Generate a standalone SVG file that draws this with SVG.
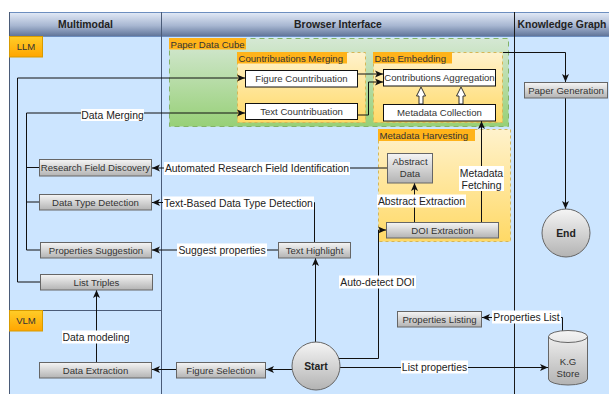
<svg xmlns="http://www.w3.org/2000/svg" width="609" height="394" viewBox="0 0 609 394">
<defs>
<linearGradient id="hdr" x1="0" y1="0" x2="0" y2="1">
<stop offset="0" stop-color="#e2eaf7"/><stop offset="0.55" stop-color="#a7b6d1"/><stop offset="1" stop-color="#5d7297"/>
</linearGradient>
<linearGradient id="gray" x1="0" y1="0" x2="0" y2="1">
<stop offset="0" stop-color="#f5f5f5"/><stop offset="1" stop-color="#b3b3b3"/>
</linearGradient>
<linearGradient id="green" x1="0" y1="0" x2="0" y2="1">
<stop offset="0" stop-color="#d5e8d4"/><stop offset="1" stop-color="#97d077"/>
</linearGradient>
<linearGradient id="yellow" x1="0" y1="0" x2="0" y2="1">
<stop offset="0" stop-color="#fff2cc"/><stop offset="1" stop-color="#ffd966"/>
</linearGradient>
<linearGradient id="orange" x1="0" y1="0" x2="0" y2="1">
<stop offset="0" stop-color="#ffcd28"/><stop offset="1" stop-color="#ffa500"/>
</linearGradient>
<marker id="arr" markerUnits="userSpaceOnUse" markerWidth="10" markerHeight="8" refX="8" refY="4" orient="auto">
<path d="M0,0.5 L8,4 L0,7.5 L2,4 Z" fill="#111"/>
</marker>
<style>
text{font-family:"Liberation Sans",Arial,sans-serif;fill:#333;}
.hd{font-size:10.4px;font-weight:bold;fill:#222;text-anchor:middle;}
.bx{fill:url(#gray);stroke:#666;stroke-width:1;}
.wb{fill:#fff;stroke:#111;stroke-width:1;}
.bt{font-size:9.6px;text-anchor:middle;}
.tg{font-size:9.6px;}
.tag{fill:#ffb31a;}
.ct{fill:url(#yellow);stroke:#d6b656;stroke-dasharray:3,3;}
.el{font-size:10.4px;text-anchor:middle;fill:#222;}
.lb{fill:#fff;}
.ln{fill:none;stroke:#111;stroke-width:1;}
.ar{fill:none;stroke:#111;stroke-width:1;marker-end:url(#arr);}
.blk{fill:#fff;stroke:#333;stroke-width:1;}
</style>
</defs>

<!-- pool -->
<g id="pool">
<rect x="9.5" y="36" width="605" height="365" fill="#cce5ff"/>
<rect x="9.5" y="12.5" width="605" height="24" fill="url(#hdr)" stroke="#6c8ebf"/>
<line x1="9.5" y1="12" x2="9.5" y2="394" stroke="#4a5b78"/>
<line x1="161.5" y1="12" x2="161.5" y2="394" stroke="#4a5b78"/>
<line x1="514.5" y1="12" x2="514.5" y2="394" stroke="#1a1a1a"/>
<line x1="9.5" y1="310.5" x2="161.5" y2="310.5" stroke="#4a5b78"/>
<text class="hd" x="85.5" y="28">Multimodal</text>
<text class="hd" x="338" y="28">Browser Interface</text>
<text class="hd" x="562" y="28">Knowledge Graph</text>
<rect x="9.5" y="36.5" width="33" height="20.5" fill="url(#orange)" stroke="#d79b00"/>
<text class="tg" x="26" y="50" text-anchor="middle">LLM</text>
<rect x="9.5" y="310.5" width="33" height="20.5" fill="url(#orange)" stroke="#d79b00"/>
<text class="tg" x="26" y="324" text-anchor="middle">VLM</text>
</g>

<!-- containers -->
<g id="paper-data-cube">
<rect x="169.5" y="38.5" width="339" height="88" fill="url(#green)" stroke="#82b366" stroke-dasharray="5,4"/>
<rect class="tag" x="169" y="38" width="77" height="11.5"/>
<text class="tg" x="170.5" y="47.5">Paper Data Cube</text>
</g>
<g id="countribuations-merging">
<rect class="ct" x="237.5" y="52.5" width="128" height="70"/>
<rect class="tag" x="237" y="52" width="110" height="11.5"/>
<text class="tg" x="238.5" y="61.5">Countribuations Merging</text>
</g>
<g id="data-embedding">
<rect class="ct" x="373.5" y="52.5" width="129" height="70"/>
<rect class="tag" x="373" y="52" width="79" height="11.5"/>
<text class="tg" x="374.5" y="61.5">Data Embedding</text>
</g>
<g id="metadata-harvesting">
<rect class="ct" x="378.5" y="129.5" width="132" height="112"/>
<rect class="tag" x="378" y="129" width="97" height="12"/>
<text class="tg" x="379.5" y="138.5">Metadata Harvesting</text>
</g>

<!-- connectors -->
<g id="connectors">
<path class="ar" d="M40,282 H17.5 V78 H245"/>
<path class="ar" d="M40,250 H26.5 V113 H245"/>
<path class="ln" d="M40,167.5 H26.5 M40,202 H26.5"/>
<path class="ar" d="M358,74 H383"/>
<path class="ar" d="M358,115 H368.5 V82 H383"/>
<path class="ar" d="M503,52.5 H565.5 V82"/>
<path class="ar" d="M565.5,98 V209"/>
<path class="ar" d="M481.5,222 V121"/>
<path class="ar" d="M414.5,222 V183"/>
<path class="ar" d="M387,168 H152"/>
<path class="ar" d="M314.5,242 V202.5 H152"/>
<path class="ar" d="M278,250 H152"/>
<path class="ar" d="M315.5,342 V258"/>
<path class="ar" d="M338.5,358.5 H378.5 V230 H386"/>
<path class="ar" d="M292,369.5 H266"/>
<path class="ar" d="M176,369.5 H152"/>
<path class="ar" d="M96.5,362 V290"/>
<path class="ar" d="M340,367.5 H548"/>
<path class="ar" d="M562.5,331 V317.5 H482"/>
<polygon class="blk" points="421,87 425.5,96 423,96 423,104 419,104 419,96 416.5,96"/>
<polygon class="blk" points="461,87 465.5,96 463,96 463,104 459,104 459,96 456.5,96"/>
<!-- edge labels -->
<rect class="lb" x="81" y="109" width="63" height="12"/>
<text class="el" x="112.5" y="118.7">Data Merging</text>
<rect class="lb" x="164" y="162" width="186" height="13"/>
<text class="el" x="257" y="172.2">Automated Research Field Identification</text>
<rect class="lb" x="163" y="196.5" width="151" height="13"/>
<text class="el" x="238.5" y="206.5">Text-Based Data Type Detection</text>
<rect class="lb" x="177" y="243.5" width="90" height="13"/>
<text class="el" x="222" y="253.5">Suggest properties</text>
<rect class="lb" x="377" y="194.5" width="89" height="13"/>
<text class="el" x="421.5" y="204.5">Abstract Extraction</text>
<rect class="lb" x="459" y="166" width="45" height="25"/>
<text class="el" x="481.5" y="176.5">Metadata</text>
<text class="el" x="481.5" y="188.5">Fetching</text>
<rect class="lb" x="339" y="275.5" width="77" height="13"/>
<text class="el" x="377.5" y="285.5">Auto-detect DOI</text>
<rect class="lb" x="62" y="330.5" width="68" height="13"/>
<text class="el" x="96" y="340.5">Data modeling</text>
<rect class="lb" x="401" y="360.5" width="67" height="13"/>
<text class="el" x="434.5" y="370.5">List properties</text>
<rect class="lb" x="492" y="310.5" width="69" height="13"/>
<text class="el" x="526.5" y="320.5">Properties List</text>
</g>

<!-- nodes -->
<g id="figure-countribuation"><rect class="wb" x="245.5" y="70.5" width="112" height="16.5"/><text class="bt" x="301.5" y="82.2">Figure Countribuation</text></g>
<g id="text-countribuation"><rect class="wb" x="245.5" y="103.5" width="112" height="16"/><text class="bt" x="301.5" y="114.8">Text Countribuation</text></g>
<g id="contributions-aggregation"><rect class="wb" x="383.5" y="69.5" width="112" height="16.5"/><text class="bt" x="439.5" y="81.2">Contributions Aggregation</text></g>
<g id="metadata-collection"><rect class="wb" x="383.5" y="104.5" width="112" height="16.5"/><text class="bt" x="439.5" y="116.2">Metadata Collection</text></g>
<g id="paper-generation"><rect class="bx" x="524.5" y="82.5" width="83" height="15.5"/><text class="bt" x="566" y="93.8">Paper Generation</text></g>
<g id="end"><circle class="bx" cx="566" cy="233" r="24"/><text class="hd" x="566" y="236.8">End</text></g>
<g id="abstract-data"><rect class="bx" x="387.5" y="153.5" width="45" height="29.5"/><text class="bt" x="410" y="165">Abstract</text><text class="bt" x="410" y="177">Data</text></g>
<g id="doi-extraction"><rect class="bx" x="386.5" y="222.5" width="112" height="15.5"/><text class="bt" x="442.5" y="233.8">DOI Extraction</text></g>
<g id="research-field-discovery"><rect class="bx" x="39.5" y="159.5" width="112" height="16.5"/><text class="bt" x="95.5" y="171.2">Research Field Discovery</text></g>
<g id="data-type-detection"><rect class="bx" x="39.5" y="194.5" width="112" height="15.5"/><text class="bt" x="95.5" y="205.8">Data Type Detection</text></g>
<g id="properties-suggestion"><rect class="bx" x="40.5" y="242.5" width="111" height="15.5"/><text class="bt" x="96" y="253.8">Properties Suggestion</text></g>
<g id="list-triples"><rect class="bx" x="40.5" y="274.5" width="112" height="15.5"/><text class="bt" x="96.5" y="285.8">List Triples</text></g>
<g id="text-highlight"><rect class="bx" x="278.5" y="242.5" width="72" height="15.5"/><text class="bt" x="314.5" y="253.8">Text Highlight</text></g>
<g id="data-extraction"><rect class="bx" x="39.5" y="362.5" width="112" height="15.5"/><text class="bt" x="95.5" y="373.8">Data Extraction</text></g>
<g id="figure-selection"><rect class="bx" x="176.5" y="362.5" width="89" height="15.5"/><text class="bt" x="221" y="373.8">Figure Selection</text></g>
<g id="start"><circle class="bx" cx="316" cy="366" r="24"/><text class="hd" x="316" y="369.8">Start</text></g>
<g id="properties-listing"><rect class="bx" x="397.5" y="311.5" width="84" height="15.5"/><text class="bt" x="439.5" y="322.8">Properties Listing</text></g>
<g id="kg-store">
<path class="bx" d="M548.5,336.5 A19.5,6 0 0 1 587.5,336.5 V379 A19.5,6 0 0 1 548.5,379 Z"/>
<path fill="none" stroke="#666" d="M548.5,336.5 A19.5,6 0 0 0 587.5,336.5"/>
<text class="bt" x="568" y="364.5">K.G</text>
<text class="bt" x="568" y="377">Store</text>
</g>
</svg>
